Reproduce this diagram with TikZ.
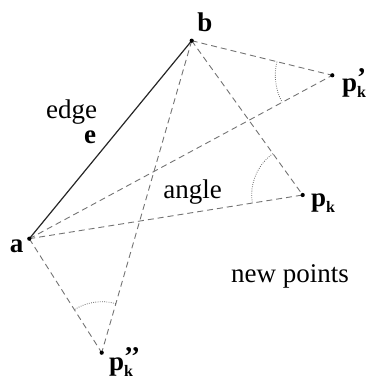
\documentclass[tikz,border=0pt]{standalone}
\usepackage{fontspec}
\setmainfont{Liberation Serif}
\usetikzlibrary{calc}
\newcommand{\pklabel}[1]{\textbf{p}\rlap{\raisebox{0.18em}{\textbf{#1}}}\raisebox{-0.22em}{\fontsize{16}{16}\selectfont\textbf{k}}}
\begin{document}
\begin{tikzpicture}[x=1pt,y=1pt,
  dashline/.style={draw=black!55, dash pattern=on 6pt off 4pt, line width=0.9pt},
  arcline/.style={draw=black!60, dash pattern=on 0.8pt off 1.4pt, line width=0.8pt},
  solidline/.style={draw=black!85, line width=1.2pt},
  dot/.style={fill=black},
  lbl/.style={font=\fontsize{27}{30}\selectfont\bfseries, inner sep=0pt},
  txt/.style={font=\fontsize{27}{30}\selectfont, inner sep=0pt}]
\useasboundingbox (0,0) rectangle (366,-381);
\coordinate (a) at (29.3,-238.7);
\coordinate (b) at (191.7,-40.7);
\coordinate (pkp) at (332.3,-75.3);
\coordinate (pk) at (302.7,-195);
\coordinate (pkpp) at (101.7,-352.7);
% edges
\draw[solidline] (a) -- (b);
\draw[dashline] (b) -- (pkp);
\draw[dashline] (a) -- (pkp);
\draw[dashline] (b) -- (pk);
\draw[dashline] (a) -- (pk);
\draw[dashline] (a) -- (pkpp);
\draw[dashline] (b) -- (pkpp);
% angle arcs
\draw[arcline] let \p1=($(b)-(pkp)$), \p2=($(a)-(pkp)$),
  \n1={atan2(\y1,\x1)}, \n2={atan2(\y2,\x2)} in
  ($(pkp)+(\n1:57)$) arc[start angle=\n1, end angle=\n2+360, radius=57];
\draw[arcline] let \p1=($(b)-(pk)$), \p2=($(a)-(pk)$),
  \n1={atan2(\y1,\x1)}, \n2={atan2(\y2,\x2)} in
  ($(pk)+(\n1:51)$) arc[start angle=\n1, end angle=\n2+360, radius=51];
\draw[arcline] let \p1=($(b)-(pkpp)$), \p2=($(a)-(pkpp)$),
  \n1={atan2(\y1,\x1)}, \n2={atan2(\y2,\x2)} in
  ($(pkpp)+(\n1:51)$) arc[start angle=\n1, end angle=\n2, radius=51];
% dots
\foreach \c in {a,b,pkp,pk,pkpp} \fill[dot] (\c) circle (2.1);
% labels
\node[lbl] (la) at (16.7,-246) {a};
\node[lbl] (lb) at (205,-22.7) {b};
\node[lbl, anchor=west] (lpkp) at (342,-83) {\pklabel{’}};
\node[lbl, anchor=west] (lpk) at (311,-203) {\pklabel{}};
\node[lbl, anchor=west] (lpkpp) at (109,-362) {\pklabel{’’}};
\node[txt] (ledge) at (71.7,-111.7) {edge};
\node[lbl] (le) at (90,-137) {e};
\node[txt] (langle) at (192.7,-191.7) {angle};
\node[txt] (lnew) at (290,-276.7) {new points};
\end{tikzpicture}
\end{document}
